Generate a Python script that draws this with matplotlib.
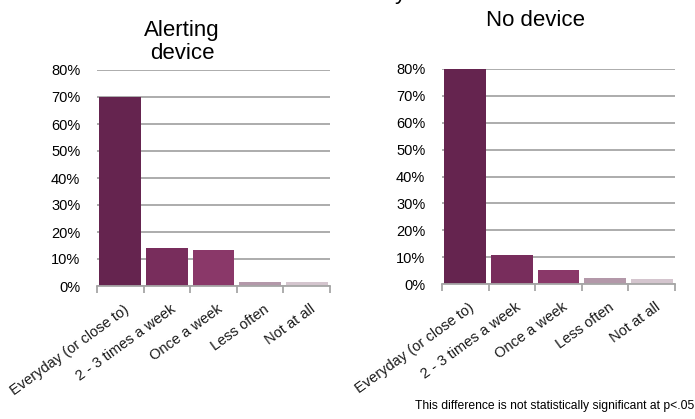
import matplotlib
matplotlib.use("Agg")
import matplotlib.pyplot as plt
import numpy as np

plt.rcParams['font.family'] = ['Liberation Sans', 'DejaVu Sans']

categories = ["Everyday (or close to)", "2 - 3 times a week", "Once a week", "Less often", "Not at all"]
alerting = [70.0, 14.2, 13.4, 1.5, 1.5]
no_device = [80.0, 10.8, 5.2, 2.4, 1.7]
titles = ["Alerting\ndevice", "No device"]
yticks = [0, 10, 20, 30, 40, 50, 60, 70, 80]
bar_colors = ["#65244f", "#782d5c", "#8a3869", "#b398a9", "#d4c5ce"]
note = "This difference is not statistically significant at p<.05"

W, H = 695, 419
fig = plt.figure(figsize=(W / 100, H / 100), dpi=100)

def ax_at(x0, x1, ytop, ybot):
    return fig.add_axes([x0 / W, 1 - ybot / H, (x1 - x0) / W, (ybot - ytop) / H])

axes = [ax_at(97, 330, 70, 286), ax_at(442, 675, 69, 284)]
x = np.arange(len(categories))

for ax, vals in zip(axes, [alerting, no_device]):
    ax.bar(x, vals, width=0.9, color=bar_colors, zorder=3)
    ax.set_xlim(-0.5, len(categories) - 0.5)
    ax.set_ylim(0, 80)
    ax.set_yticks(yticks)
    ax.set_yticklabels([f"{v}%" for v in yticks], fontsize=10.5)
    ax.yaxis.grid(True, color="#a6a6a6", lw=1.3, zorder=0)
    ax.tick_params(axis="y", length=0, pad=12)
    for s in ["left", "right", "top"]:
        ax.spines[s].set_visible(False)
    ax.spines["bottom"].set_color("#a6a6a6")
    ax.spines["bottom"].set_linewidth(1.3)
    ax.spines["bottom"].set_zorder(4)
    ax.set_xticks(np.arange(len(categories) + 1) - 0.5)
    ax.set_xticklabels([])
    ax.tick_params(axis="x", length=5, width=1.3, color="#a6a6a6", direction="out")
    for i, c in enumerate(categories):
        ax.text(i + 0.07, -6, c, rotation=36, rotation_mode="anchor",
                ha="right", va="top", fontsize=10.5, color="#1a1a1a")

fig.text(182 / W, 1 - 42 / H, titles[0], ha="center", va="center", fontsize=16, linespacing=1.15)
fig.text(536 / W, 1 - 20 / H, titles[1], ha="center", va="center", fontsize=16)
fig.text(395 / W, 1 + 1 / H, "y", ha="left", va="baseline", fontsize=16)
fig.text(415 / W, 1 - 409 / H, note, ha="left", va="baseline", fontsize=8.7)

fig.savefig("out.png", dpi=100)
